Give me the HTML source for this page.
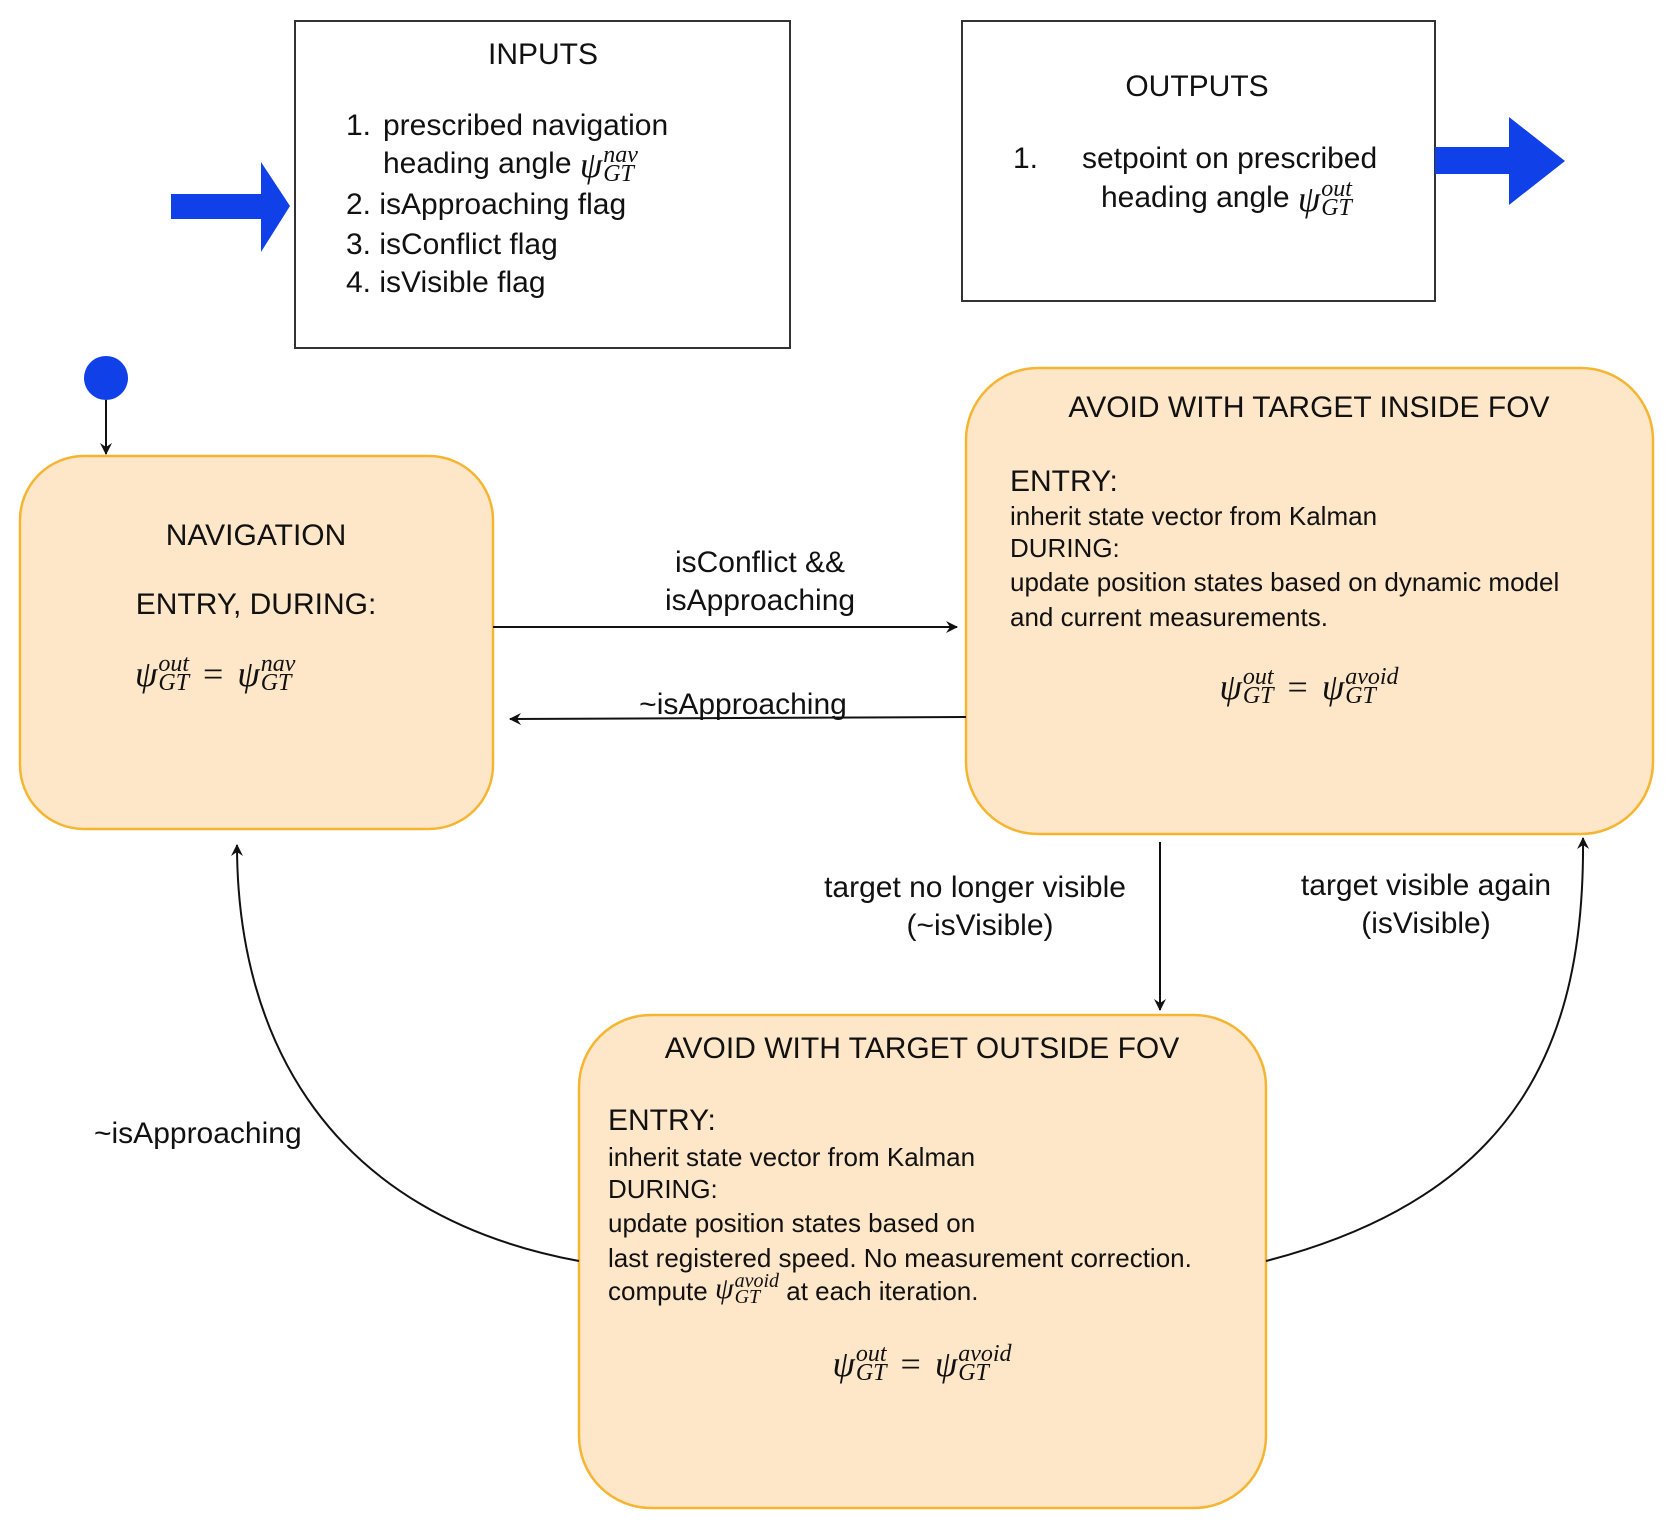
<!DOCTYPE html>
<html><head><meta charset="utf-8">
<style>
html,body{margin:0;padding:0;background:#fff;}
body{width:1672px;height:1536px;position:relative;overflow:hidden;font-family:"Liberation Sans",sans-serif;color:#111;}
.t{position:absolute;white-space:nowrap;line-height:1;}
.c{transform:translateX(-50%);}
.f30{font-size:30px;}
.f26{font-size:26px;}
.m{font-family:"Liberation Serif",serif;font-style:italic;display:inline-flex;align-items:center;vertical-align:middle;}
.m .psi{font-size:36px;}
.m .ss{display:inline-flex;flex-direction:column;font-size:24px;line-height:0.8;margin-left:1px;}
.m .eq{font-style:normal;font-size:36px;margin:0 14px;}
</style></head><body>
<svg width="1672" height="1536" style="position:absolute;left:0;top:0">
<defs><marker id="a" markerWidth="12" markerHeight="12" refX="11" refY="6" orient="auto" markerUnits="userSpaceOnUse"><path d="M0,0 L12,6 L0,12 L4,6 z" fill="#111"/></marker></defs>
<rect x="295" y="21" width="495" height="327" fill="#fff" stroke="#333" stroke-width="2"/>
<rect x="962" y="21" width="473" height="280" fill="#fff" stroke="#333" stroke-width="2"/>
<path d="M171,194 L261,194 L261,162 L290,206 L261,252 L261,219 L171,219 z" fill="#1040e8"/>
<path d="M1435,147 L1509,147 L1509,117 L1565,161 L1509,205 L1509,174 L1435,174 z" fill="#1040e8"/>
<circle cx="106" cy="378" r="22" fill="#1040e8"/>
<line x1="106" y1="400" x2="106" y2="454" stroke="#111" stroke-width="2" marker-end="url(#a)"/>
<rect x="20" y="456" width="473" height="373" rx="64" fill="#fee6c9" stroke="#f5b530" stroke-width="2.5"/>
<rect x="966" y="368" width="687" height="466" rx="72" fill="#fee6c9" stroke="#f5b530" stroke-width="2.5"/>
<rect x="579" y="1015" width="687" height="493" rx="72" fill="#fee6c9" stroke="#f5b530" stroke-width="2.5"/>
<line x1="493" y1="627" x2="957" y2="627" stroke="#111" stroke-width="2" marker-end="url(#a)"/>
<line x1="966" y1="717" x2="510" y2="719" stroke="#111" stroke-width="2" marker-end="url(#a)"/>
<line x1="1160" y1="842" x2="1160" y2="1010" stroke="#111" stroke-width="2" marker-end="url(#a)"/>
<path d="M579,1261 C330,1215 237,1040 237,845" fill="none" stroke="#111" stroke-width="2" marker-end="url(#a)"/>
<path d="M1266,1261 C1520,1195 1585,1040 1583,838" fill="none" stroke="#111" stroke-width="2" marker-end="url(#a)"/>
</svg>

<div class="t c f30" style="left:543px;top:40px">INPUTS</div>
<div class="t f30" style="left:346px;top:111px">1.</div>
<div class="t f30" style="left:383px;top:111px">prescribed navigation</div>
<div class="t f30" style="left:383px;top:146px">heading angle <span class="m"><span class="psi">ψ</span><span class="ss"><span>nav</span><span>GT</span></span></span></div>
<div class="t f30" style="left:346px;top:190px">2. isApproaching flag</div>
<div class="t f30" style="left:346px;top:230px">3. isConflict flag</div>
<div class="t f30" style="left:346px;top:268px">4. isVisible flag</div>

<div class="t c f30" style="left:1197px;top:72px">OUTPUTS</div>
<div class="t f30" style="left:1013px;top:144px">1.</div>
<div class="t f30" style="left:1082px;top:144px">setpoint on prescribed</div>
<div class="t f30" style="left:1101px;top:180px">heading angle <span class="m"><span class="psi">ψ</span><span class="ss"><span>out</span><span>GT</span></span></span></div>

<div class="t c f30" style="left:256px;top:521px">NAVIGATION</div>
<div class="t c f30" style="left:256px;top:590px">ENTRY, DURING:</div>
<div class="t" style="left:135px;top:655px"><span class="m"><span class="psi">ψ</span><span class="ss"><span>out</span><span>GT</span></span><span class="eq">=</span><span class="psi">ψ</span><span class="ss"><span>nav</span><span>GT</span></span></span></div>

<div class="t c f30" style="left:760px;top:548px">isConflict &amp;&amp;</div>
<div class="t c f30" style="left:760px;top:586px">isApproaching</div>
<div class="t c f30" style="left:743px;top:690px">~isApproaching</div>

<div class="t c f30" style="left:1309px;top:393px">AVOID WITH TARGET INSIDE FOV</div>
<div class="t f30" style="left:1010px;top:467px">ENTRY:</div>
<div class="t f26" style="left:1010px;top:503px">inherit state vector from Kalman</div>
<div class="t f26" style="left:1010px;top:535px">DURING:</div>
<div class="t f26" style="left:1010px;top:569px">update position states based on dynamic model</div>
<div class="t f26" style="left:1010px;top:604px">and current measurements.</div>
<div class="t c" style="left:1309px;top:668px"><span class="m"><span class="psi">ψ</span><span class="ss"><span>out</span><span>GT</span></span><span class="eq">=</span><span class="psi">ψ</span><span class="ss"><span>avoid</span><span>GT</span></span></span></div>

<div class="t c f30" style="left:975px;top:873px">target no longer visible</div>
<div class="t c f30" style="left:980px;top:911px">(~isVisible)</div>
<div class="t c f30" style="left:1426px;top:871px">target visible again</div>
<div class="t c f30" style="left:1426px;top:909px">(isVisible)</div>
<div class="t f30" style="left:94px;top:1119px">~isApproaching</div>

<div class="t c f30" style="left:922px;top:1034px">AVOID WITH TARGET OUTSIDE FOV</div>
<div class="t f30" style="left:608px;top:1106px">ENTRY:</div>
<div class="t f26" style="left:608px;top:1144px">inherit state vector from Kalman</div>
<div class="t f26" style="left:608px;top:1176px">DURING:</div>
<div class="t f26" style="left:608px;top:1210px">update position states based on</div>
<div class="t f26" style="left:608px;top:1245px">last registered speed. No measurement correction.</div>
<div class="t f26" style="left:608px;top:1278px">compute <span class="m" style="margin-top:-8px"><span class="psi" style="font-size:30px">ψ</span><span class="ss" style="font-size:20px"><span>avoid</span><span>GT</span></span></span> at each iteration.</div>
<div class="t c" style="left:922px;top:1345px"><span class="m"><span class="psi">ψ</span><span class="ss"><span>out</span><span>GT</span></span><span class="eq">=</span><span class="psi">ψ</span><span class="ss"><span>avoid</span><span>GT</span></span></span></div>
</body></html>
